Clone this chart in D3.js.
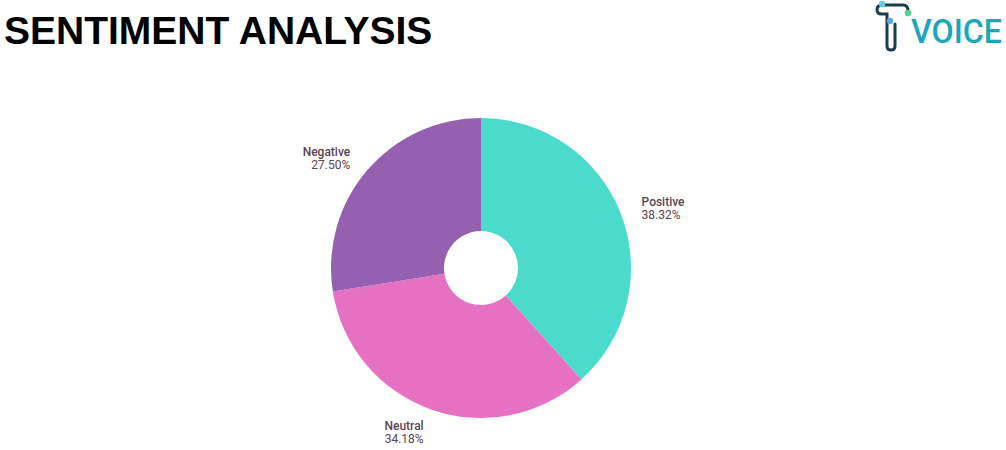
<!DOCTYPE html>
<html><head><meta charset="utf-8">
<script src="https://cdn.jsdelivr.net/npm/d3@7/dist/d3.min.js"></script>
<style>body{margin:0;background:#fff}svg{display:block}</style>
</head><body>
<svg id="c" width="1006" height="450"></svg>
<script>
const categories = ["Positive", "Neutral", "Negative"];
const values = [38.32, 34.18, 27.50];
const colors = ["#4adbcc", "#e671c2", "#9560b0"];
const pctLabels = ["38.32%", "34.18%", "27.50%"];

const svg = d3.select("#c");
svg.append("text").attr("x", 4).attr("y", 44)
  .attr("font-family", "Liberation Sans, Arial, sans-serif").attr("font-weight", "bold")
  .attr("font-size", 39).attr("fill", "#000").text("SENTIMENT ANALYSIS");

// logo
const logo = svg.append("g");
logo.append("path").attr("d", "M882,5 L903,5 Q908,5 908,11 M882,5 Q877,5 877,10 Q877,14 882,14 L887,14 L887,46 Q887,50 891,50 Q895,50 895,46 L895,24")
  .attr("fill", "none").attr("stroke", "#1f3b4b").attr("stroke-width", 3).attr("stroke-linecap", "round");
logo.append("circle").attr("cx", 882).attr("cy", 4).attr("r", 3.2).attr("fill", "#5fd0e6");
logo.append("circle").attr("cx", 908).attr("cy", 13).attr("r", 3.2).attr("fill", "#4fd68c");
logo.append("circle").attr("cx", 890).attr("cy", 21).attr("r", 3.2).attr("fill", "#5aa8e8");
logo.append("text").attr("x", 911).attr("y", 43)
  .attr("font-family", "Roboto, Arial, sans-serif").attr("font-weight", 500).attr("font-size", 34)
  .attr("fill", "#1ba7ba").attr("textLength", 91).attr("lengthAdjust", "spacingAndGlyphs").text("VOICE");

const cx = 481, cy = 268, R = 150, r0 = 37;
const pie = d3.pie().sort(null).value(d => d)(values);
const arc = d3.arc().innerRadius(r0).outerRadius(R);
const g = svg.append("g").attr("transform", `translate(${cx},${cy})`);
g.selectAll("path").data(pie).join("path").attr("d", arc)
  .attr("fill", (d, i) => colors[i]);

const lab = d3.arc().innerRadius(172).outerRadius(172);
pie.forEach((d, i) => {
  const [x, y] = lab.centroid(d);
  const anchor = x < 0 ? "end" : "start";
  const t = g.append("text").attr("text-anchor", anchor)
    .attr("font-family", "Roboto, sans-serif").attr("font-size", 12).attr("fill", "#5c4452");
  t.append("tspan").attr("x", x).attr("y", y).attr("font-weight", 500).text(categories[i]);
  t.append("tspan").attr("x", x).attr("y", y + 12.5).text(pctLabels[i]);
});
</script>
</body></html>
